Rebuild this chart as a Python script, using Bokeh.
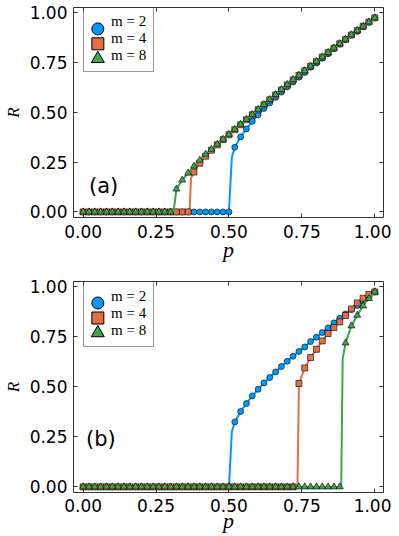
from bokeh.plotting import figure
from bokeh.models import Range1d, LinearAxis, Legend, LegendItem, Label, FixedTicker
from bokeh.layouts import column
from bokeh.embed import file_html
from bokeh.resources import INLINE

# ---------------- data ----------------
p_vals = [0.00, 0.02, 0.04, 0.06, 0.08, 0.10, 0.12, 0.14, 0.16, 0.18,
          0.20, 0.22, 0.24, 0.26, 0.28, 0.30, 0.32, 0.34, 0.36, 0.38,
          0.40, 0.42, 0.44, 0.46, 0.48, 0.50, 0.52, 0.54, 0.56, 0.58,
          0.60, 0.62, 0.64, 0.66, 0.68, 0.70, 0.72, 0.74, 0.76, 0.78,
          0.80, 0.82, 0.84, 0.86, 0.88, 0.90, 0.92, 0.94, 0.96, 0.98, 1.00]

# m = 2 (same in both panels)
R_m2 = [0.0, 0.0, 0.0, 0.0, 0.0, 0.0, 0.0, 0.0, 0.0, 0.0,
        0.0, 0.0, 0.0, 0.0, 0.0, 0.0, 0.0, 0.0, 0.0, 0.0,
        0.0, 0.0, 0.0, 0.0, 0.0, 0.0, 0.325, 0.377, 0.417, 0.455,
        0.488, 0.520, 0.547, 0.575, 0.602, 0.628, 0.653, 0.677, 0.700, 0.727,
        0.748, 0.772, 0.795, 0.820, 0.843, 0.865, 0.887, 0.907, 0.930, 0.953, 0.975]
knee_p_m2 = [0.51]
knee_R_m2 = [0.275]

# panel (a)
R_a_m4 = [0.0, 0.0, 0.0, 0.0, 0.0, 0.0, 0.0, 0.0, 0.0, 0.0,
          0.0, 0.0, 0.0, 0.0, 0.0, 0.0, 0.0, 0.0, 0.0, 0.200,
          0.245, 0.280, 0.310, 0.337, 0.363, 0.388, 0.413, 0.438, 0.463, 0.488,
          0.513, 0.538, 0.563, 0.588, 0.613, 0.638, 0.663, 0.686, 0.709, 0.732,
          0.755, 0.778, 0.800, 0.823, 0.845, 0.867, 0.889, 0.911, 0.932, 0.954, 0.975]
knee_p_a_m4 = [0.365, 0.37]
knee_R_a_m4 = [0.0, 0.17]

R_a_m8 = [0.0, 0.0, 0.0, 0.0, 0.0, 0.0, 0.0, 0.0, 0.0, 0.0,
          0.0, 0.0, 0.0, 0.0, 0.0, 0.0, 0.115, 0.160, 0.195, 0.230,
          0.260, 0.290, 0.315, 0.340, 0.365, 0.390, 0.415, 0.440, 0.465, 0.490,
          0.515, 0.540, 0.565, 0.590, 0.615, 0.640, 0.665, 0.687, 0.710, 0.733,
          0.756, 0.779, 0.801, 0.824, 0.846, 0.868, 0.890, 0.912, 0.933, 0.954, 0.975]
knee_p_a_m8 = [0.31]
knee_R_a_m8 = [0.0]

# panel (b)
R_b_m4 = [0.0, 0.0, 0.0, 0.0, 0.0, 0.0, 0.0, 0.0, 0.0, 0.0,
          0.0, 0.0, 0.0, 0.0, 0.0, 0.0, 0.0, 0.0, 0.0, 0.0,
          0.0, 0.0, 0.0, 0.0, 0.0, 0.0, 0.0, 0.0, 0.0, 0.0,
          0.0, 0.0, 0.0, 0.0, 0.0, 0.0, 0.0, 0.517, 0.595, 0.647,
          0.688, 0.730, 0.767, 0.797, 0.825, 0.857, 0.890, 0.920, 0.943, 0.962, 0.975]
knee_p_b_m4 = [0.735]
knee_R_b_m4 = [0.0]

R_b_m8 = [0.0, 0.0, 0.0, 0.0, 0.0, 0.0, 0.0, 0.0, 0.0, 0.0,
          0.0, 0.0, 0.0, 0.0, 0.0, 0.0, 0.0, 0.0, 0.0, 0.0,
          0.0, 0.0, 0.0, 0.0, 0.0, 0.0, 0.0, 0.0, 0.0, 0.0,
          0.0, 0.0, 0.0, 0.0, 0.0, 0.0, 0.0, 0.0, 0.0, 0.0,
          0.0, 0.0, 0.0, 0.0, 0.0, 0.720, 0.805, 0.858, 0.905, 0.942, 0.975]
knee_p_b_m8 = [0.885, 0.89]
knee_R_b_m8 = [0.0, 0.64]

series_labels = ["m = 2", "m = 4", "m = 8"]
tick_vals = [0.0, 0.25, 0.5, 0.75, 1.0]
tick_labels = ["0.00", "0.25", "0.50", "0.75", "1.00"]
panel_labels = ["(a)", "(b)"]

# ---------------- style / layout ----------------
COLORS = ["#009AFA", "#E36F47", "#3EA44E"]
MARKERS = ["circle", "square", "triangle"]
MSIZES = [6, 6, 7]
LEG_MSIZES = [12, 12, 13]
FRAME_COL = "#333333"
X0, X1 = -0.033, 1.03
Y0, Y1 = -0.028, 1.027
FW, FH = 312, 211          # frame size in px
LEG_L, LEG_T = 10, 7       # legend offset from frame top-left, px
LEG_PAD, LEG_ROW, LEG_GW = 7, 15, 15


def line_xy(ps, rs, kp, kr):
    pts = sorted(zip(list(ps) + list(kp), list(rs) + list(kr)))
    return [a for a, _ in pts], [b for _, b in pts]


def px_to_data(px, py):
    return X0 + px / FW * (X1 - X0), Y1 - py / FH * (Y1 - Y0)


def make_panel(series, label, lab_x, lab_y, top, bottom, tick_so, lab_so):
    p = figure(width=71 + FW + 8, height=top + FH + bottom,
               x_range=Range1d(X0, X1), y_range=Range1d(Y0, Y1),
               output_backend="svg", toolbar_location=None,
               min_border_left=71, min_border_right=8,
               min_border_top=top, min_border_bottom=bottom,
               x_axis_label="p", y_axis_label="R")
    p.background_fill_color = "white"
    p.border_fill_color = "white"
    p.outline_line_color = FRAME_COL
    p.outline_line_width = 1
    p.xgrid.visible = False
    p.ygrid.visible = False

    overrides = {v: t for v, t in zip(tick_vals, tick_labels)}
    for ax in [p.xaxis[0], p.yaxis[0]]:
        ax.ticker = FixedTicker(ticks=tick_vals)
        ax.major_label_overrides = overrides
        ax.major_tick_in = 4
        ax.major_tick_out = 0
        ax.major_tick_line_color = FRAME_COL
        ax.minor_tick_line_color = None
        ax.axis_line_color = None
        ax.major_label_text_font = "DejaVu Sans"
        ax.major_label_text_font_size = "17px"
        ax.major_label_text_color = "black"
        ax.axis_label_text_font = "Liberation Serif"
        ax.axis_label_text_font_style = "italic"
        ax.axis_label_text_color = "black"
    p.xaxis[0].major_label_standoff = tick_so
    p.xaxis[0].axis_label_standoff = lab_so
    p.xaxis[0].axis_label_text_font_size = "22px"
    p.yaxis[0].major_label_standoff = 6
    p.yaxis[0].axis_label_standoff = 4
    p.yaxis[0].axis_label_text_font_size = "17px"

    # mirrored ticks on top and right (no labels)
    empty = {v: "" for v in tick_vals}
    for loc in ["above", "right"]:
        ax = LinearAxis(ticker=FixedTicker(ticks=tick_vals),
                        major_label_overrides=empty,
                        major_label_standoff=0,
                        major_tick_in=4, major_tick_out=0,
                        major_tick_line_color=FRAME_COL,
                        minor_tick_line_color=None,
                        axis_line_color=None)
        p.add_layout(ax, loc)

    items = []
    for i, (rs, kp, kr) in enumerate(series):
        lx, ly = line_xy(p_vals, rs, kp, kr)
        p.line(lx, ly, line_color=COLORS[i], line_width=2)
        p.scatter(p_vals, rs, marker=MARKERS[i], size=MSIZES[i],
                  fill_color=COLORS[i], line_color="black", line_width=0.6)
        # invisible proxy so the legend box holds the text only
        proxy = p.scatter([], [], marker=MARKERS[i], size=1,
                          fill_alpha=0, line_alpha=0)
        items.append(LegendItem(label=series_labels[i], renderers=[proxy]))

    # enlarged legend symbols
    for i in range(3):
        lx, ly = px_to_data(LEG_L + LEG_PAD + LEG_GW / 2,
                            LEG_T + LEG_PAD + LEG_ROW / 2 + i * LEG_ROW)
        p.scatter([lx], [ly], marker=MARKERS[i], size=LEG_MSIZES[i],
                  fill_color=COLORS[i], line_color="black", line_width=1)

    leg_h = 2 * LEG_PAD + 3 * LEG_ROW
    leg = Legend(items=items, location=(LEG_L, FH - LEG_T - leg_h),
                 glyph_width=LEG_GW, glyph_height=LEG_ROW, spacing=0,
                 padding=LEG_PAD, label_standoff=5, label_height=LEG_ROW,
                 label_width=20,
                 label_text_font="Liberation Serif", label_text_font_size="15px",
                 label_text_color="black",
                 border_line_color="#333333", border_line_width=1,
                 background_fill_alpha=0.0)
    p.add_layout(leg, "center")

    p.add_layout(Label(x=lab_x, y=lab_y, text=label, text_font="DejaVu Sans",
                       text_font_size="21px", text_baseline="middle",
                       text_align="left", text_color="black"))
    return p


pa = make_panel([(R_m2, knee_p_m2, knee_R_m2),
                 (R_a_m4, knee_p_a_m4, knee_R_a_m4),
                 (R_a_m8, knee_p_a_m8, knee_R_a_m8)],
                panel_labels[0], 0.02, 0.13, 7, 46, 7, -4)
pb = make_panel([(R_m2, knee_p_m2, knee_R_m2),
                 (R_b_m4, knee_p_b_m4, knee_R_b_m4),
                 (R_b_m8, knee_p_b_m8, knee_R_b_m8)],
                panel_labels[1], 0.01, 0.24, 17, 44, 6, -7)

layout = column(pa, pb, spacing=0)
open("out.html", "w").write(file_html(layout, INLINE))
